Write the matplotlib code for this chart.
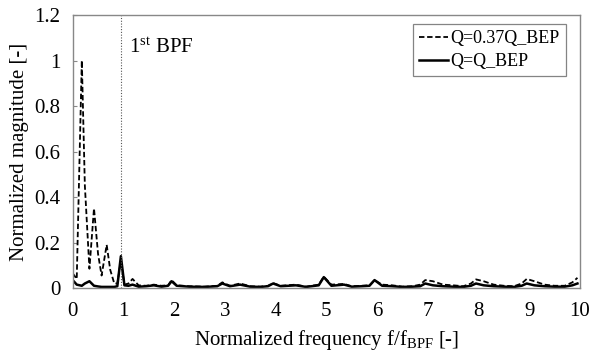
import matplotlib
matplotlib.use("Agg")
import matplotlib.pyplot as plt

plt.rcParams['font.family'] = ['Liberation Serif', 'DejaVu Serif']
plt.rcParams['mathtext.fontset'] = 'custom'
plt.rcParams['mathtext.rm'] = 'Liberation Serif'
plt.rcParams['mathtext.it'] = 'Liberation Serif:italic'

# normalized frequency f/f_BPF and magnitudes
freq_low = [0.0, 0.08, 0.18, 0.24, 0.33, 0.42, 0.5, 0.57, 0.67, 0.74, 0.82, 0.88, 0.95, 1.02,
            1.1, 1.18, 1.3, 1.45, 1.6, 1.75, 1.88]
q037_low = [0.065, 0.04, 1.0, 0.45, 0.085, 0.35, 0.15, 0.055, 0.19, 0.08, 0.02, 0.02, 0.12, 0.015,
            0.02, 0.04, 0.012, 0.01, 0.015, 0.01, 0.012]
qbep_low = [0.035, 0.015, 0.01, 0.02, 0.03, 0.01, 0.007, 0.005, 0.005, 0.005, 0.005, 0.008, 0.14, 0.012,
            0.01, 0.015, 0.006, 0.008, 0.012, 0.006, 0.01]

freq_high = [1.95, 2.05, 2.3, 2.6, 2.85, 2.95, 3.1, 3.3, 3.5, 3.7, 3.85, 3.95, 4.1, 4.4, 4.6,
             4.85, 4.95, 5.1, 5.35, 5.5, 5.7, 5.85, 5.95, 6.1, 6.3, 6.5, 6.7, 6.85, 6.95, 7.1,
             7.3, 7.5, 7.7, 7.85, 7.95, 8.1, 8.3, 8.5, 8.7, 8.85, 8.95, 9.1, 9.3, 9.5, 9.7, 9.85, 9.95]
q037_high = [0.035, 0.012, 0.008, 0.006, 0.01, 0.025, 0.01, 0.02, 0.008, 0.006, 0.01, 0.022, 0.01, 0.015, 0.006,
             0.015, 0.05, 0.015, 0.018, 0.008, 0.01, 0.012, 0.035, 0.015, 0.012, 0.006, 0.008, 0.015, 0.035, 0.03,
             0.015, 0.012, 0.008, 0.02, 0.038, 0.03, 0.015, 0.01, 0.008, 0.02, 0.04, 0.03, 0.015, 0.01, 0.01, 0.025, 0.045]
qbep_high = [0.03, 0.01, 0.006, 0.005, 0.008, 0.02, 0.008, 0.015, 0.006, 0.005, 0.008, 0.02, 0.008, 0.012, 0.005,
             0.012, 0.048, 0.01, 0.015, 0.006, 0.008, 0.01, 0.035, 0.01, 0.008, 0.005, 0.006, 0.008, 0.02, 0.012,
             0.008, 0.006, 0.005, 0.01, 0.02, 0.012, 0.008, 0.006, 0.005, 0.01, 0.02, 0.012, 0.008, 0.006, 0.006, 0.012, 0.02]

freq = freq_low + freq_high
q037 = q037_low + q037_high
qbep = qbep_low + qbep_high

bpf_x = 0.95
yticks = [0, 0.2, 0.4, 0.6, 0.8, 1.0, 1.2]
ytick_labels = ['0', '0.2', '0.4', '0.6', '0.8', '1', '1.2']
xticks = list(range(0, 11))

fig = plt.figure(figsize=(5.89, 3.53), dpi=100)
ax = fig.add_axes([0.1234, 0.184, 0.8613, 0.7735])

ax.plot(freq, q037, color='black', linestyle=(0, (3, 1.5)), linewidth=1.3, label='Q=0.37Q_BEP')
ax.plot(freq, qbep, color='black', linestyle='-', linewidth=1.8, label='Q=Q_BEP')
ax.axvline(bpf_x, color='#555555', linestyle=(0, (1, 1.5)), linewidth=0.8)
ax.text(bpf_x + 0.16, 1.055, r'1$^{\mathrm{st}}$ BPF', fontsize=15, va='center', ha='left')

ax.set_xlim(0, 10)
ax.set_ylim(0, 1.2)
ax.set_xticks(xticks)
ax.set_yticks(yticks)
ax.set_yticklabels(ytick_labels)
ax.tick_params(axis='x', length=0, pad=10, labelsize=15)
ax.tick_params(axis='y', direction='in', length=3, color='#888888', pad=9, labelsize=15)
for s in ax.spines.values():
    s.set_color('#888888')
    s.set_linewidth(1.0)

ax.set_xlabel(r'Normalized frequency f/f$_{\mathrm{BPF}}$ [-]', fontsize=15, labelpad=5)
ax.set_ylabel('Normalized magnitude [-]', fontsize=15, labelpad=4)

leg = ax.legend(loc='upper right', bbox_to_anchor=(0.9825, 0.9865), fontsize=13, frameon=True,
                fancybox=False, handlelength=1.6, handletextpad=0.1, borderpad=0.35,
                labelspacing=0.3, borderaxespad=0.3)
leg.get_frame().set_edgecolor('#666666')
leg.get_frame().set_linewidth(0.9)

fig.savefig('out.png', dpi=100)
